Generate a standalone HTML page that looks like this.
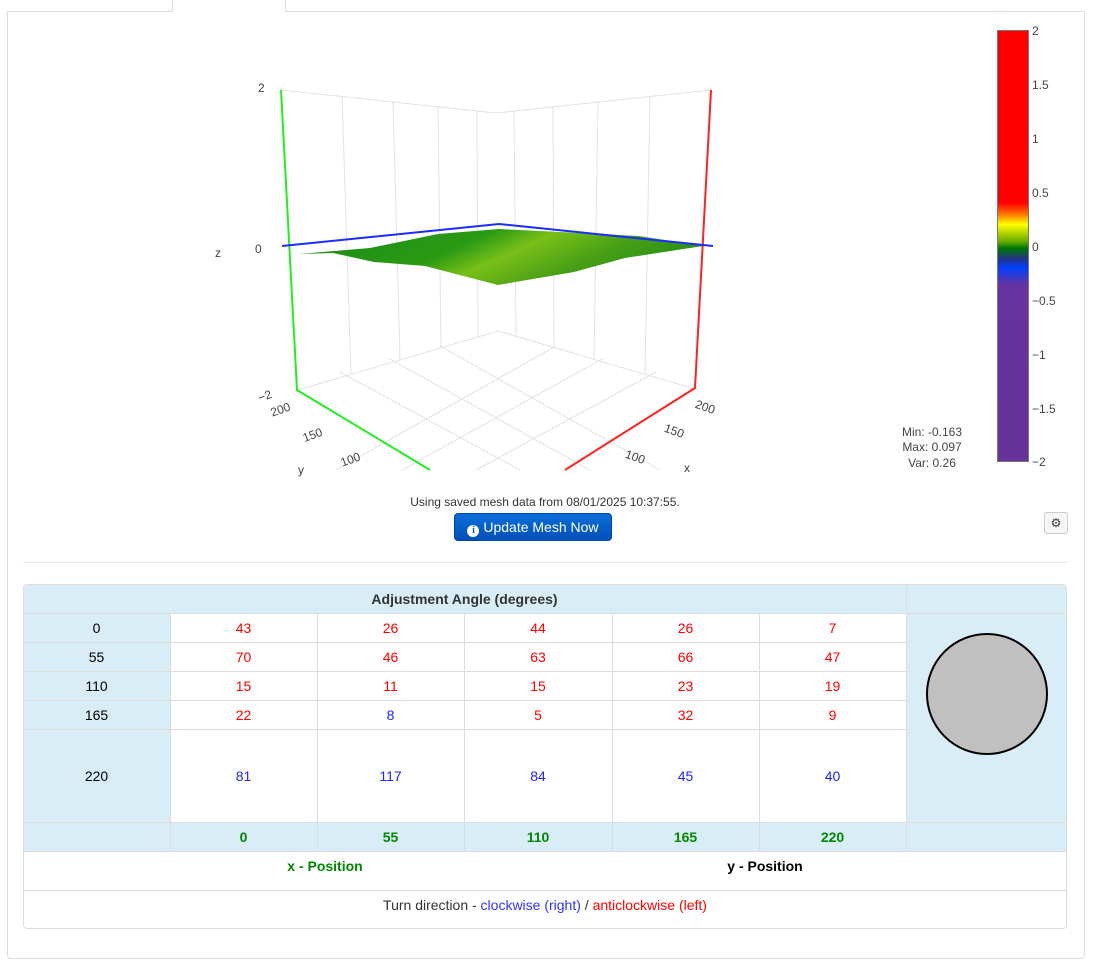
<!DOCTYPE html>
<html><head><meta charset="utf-8"><style>
body{margin:0;width:1100px;height:971px;background:#fff;font-family:"Liberation Sans",Arial,sans-serif;position:relative;overflow:hidden}
.a{position:absolute}
.c{position:absolute;text-align:center;font-size:14px;line-height:30px}
.r{color:#f00}.b{color:#22f}.g{color:#080;font-weight:bold}
.bg{background:#d9edf7}
.hl{position:absolute;height:1px;background:#ddd}
.vl{position:absolute;width:1px;background:#ddd}
</style></head><body>
<div class="a" style="left:7px;top:11px;width:1076px;height:947px;border:1px solid #ddd;border-top:none;border-radius:0 0 4px 4px"></div>
<div class="hl" style="left:7px;top:11px;width:165px"></div>
<div class="hl" style="left:285px;top:11px;width:799px"></div>
<div class="vl" style="left:172px;top:0;height:12px"></div>
<div class="vl" style="left:285px;top:0;height:12px"></div>

<svg class="a" style="left:0;top:0" width="1100" height="560" font-family="Liberation Sans, sans-serif">
<defs>
<linearGradient id="cb" x1="0" y1="0" x2="0" y2="1">
<stop offset="0" stop-color="#f00"/><stop offset="0.40" stop-color="#f00"/>
<stop offset="0.425" stop-color="#ff7000"/><stop offset="0.45" stop-color="#ff0"/>
<stop offset="0.49" stop-color="#6a0"/><stop offset="0.505" stop-color="#070"/>
<stop offset="0.53" stop-color="#223388"/><stop offset="0.55" stop-color="#0040ff"/>
<stop offset="0.59" stop-color="#6633a0"/><stop offset="1" stop-color="#663399"/>
</linearGradient>
<linearGradient id="sf" x1="0" y1="0" x2="1" y2="0.3">
<stop offset="0" stop-color="#1a8a1a"/><stop offset="0.45" stop-color="#2a9a14"/>
<stop offset="0.6" stop-color="#78c018"/><stop offset="0.8" stop-color="#4aa015"/><stop offset="1" stop-color="#2a9015"/>
</linearGradient>
</defs>
<g stroke="#e2e2e2" stroke-width="1" fill="none">
<polyline points="281,90 496,113 711,90"/>
<polyline points="298,390 498,331 698,390"/>
<line x1="342" y1="97" x2="351" y2="374"/><line x1="393" y1="102" x2="400" y2="360"/>
<line x1="438" y1="107" x2="441" y2="348"/><line x1="477" y1="111" x2="478" y2="337"/>
<line x1="514" y1="111" x2="516" y2="336"/><line x1="553" y1="107" x2="554" y2="347"/>
<line x1="598" y1="102" x2="594" y2="359"/><line x1="650" y1="96" x2="645" y2="375"/>
<line x1="340" y1="372" x2="520" y2="470"/><line x1="388" y1="358" x2="590" y2="470"/>
<line x1="440" y1="346" x2="660" y2="470"/><line x1="656" y1="372" x2="476" y2="470"/>
<line x1="604" y1="358" x2="402" y2="470"/><line x1="556" y1="346" x2="336" y2="470"/>
</g>
<polyline points="281,90 297,390 430,470" stroke="#2e2" stroke-width="2" fill="none"/>
<polyline points="711,90 695,388 565,470" stroke="#f22" stroke-width="2" fill="none"/>
<polygon points="299,254 333,253 374,262 425,266 498,285 574,272 625,258 703,246 639,236 540,231 499,229 438,234 370,248" fill="url(#sf)"/>
<polyline points="282,246 499,224 713,246" stroke="#1a2cff" stroke-width="2" fill="none"/>
<g font-size="12" fill="#444">
<text x="258" y="92">2</text><text x="255" y="253">0</text>
<text x="215" y="257">z</text>
<text x="258" y="400" transform="rotate(-20 265 396)">−2</text>
<text x="270" y="413" transform="rotate(-20 282 408)">200</text>
<text x="302" y="438" transform="rotate(-20 315 433)">150</text>
<text x="340" y="463" transform="rotate(-20 352 458)">100</text>
<text x="298" y="474">y</text>
<text x="695" y="412" transform="rotate(20 708 408)">200</text>
<text x="664" y="436" transform="rotate(20 677 432)">150</text>
<text x="625" y="462" transform="rotate(20 638 458)">100</text>
<text x="684" y="472">x</text>
</g>
<rect x="997.5" y="30.5" width="31" height="431" fill="url(#cb)" stroke="#777" stroke-width="1"/>
<g font-size="12" fill="#444">
<text x="1032" y="35">2</text><text x="1032" y="89">1.5</text><text x="1032" y="143">1</text>
<text x="1032" y="197">0.5</text><text x="1032" y="251">0</text><text x="1032" y="305">−0.5</text>
<text x="1032" y="359">−1</text><text x="1032" y="413">−1.5</text><text x="1032" y="466">−2</text>
<text x="932" y="436" text-anchor="middle">Min: -0.163</text>
<text x="932" y="451" text-anchor="middle">Max: 0.097</text>
<text x="932" y="467" text-anchor="middle">Var: 0.26</text>
</g>
<text x="545" y="506" font-size="12" fill="#333" text-anchor="middle">Using saved mesh data from 08/01/2025 10:37:55.</text>
</svg>
<div class="a" style="left:454px;top:513px;width:158px;height:28px;border-radius:4px;background:linear-gradient(#0a6ed8,#0050b8);border:1px solid #0048a8;box-sizing:border-box;color:#fff;font-size:14px;line-height:26px;text-align:center"><span style="display:inline-block;width:12px;height:12px;border-radius:6px;background:#fff;color:#0a5cc8;font-size:10px;line-height:12px;font-weight:bold;vertical-align:-1px;font-family:'Liberation Serif',serif">i</span> Update Mesh Now</div>
<div class="a" style="left:1044px;top:512px;width:24px;height:22px;border:1px solid #ccc;border-radius:3px;box-sizing:border-box;background:#f7f7f7;font-size:12px;line-height:20px;text-align:center;color:#333">⚙</div>
<div class="hl" style="left:23px;top:562px;width:1044px;background:#e5e5e5"></div>

<div class="a" style="left:23px;top:584px;width:1044px;height:345px;border:1px solid #ddd;border-radius:4px;box-sizing:border-box;overflow:hidden">
<div class="a bg" style="left:0;top:0;width:1044px;height:29px"></div>
<div class="a bg" style="left:0;top:29px;width:147px;height:209px"></div>
<div class="a bg" style="left:883px;top:29px;width:161px;height:209px"></div>
<div class="a bg" style="left:0;top:238px;width:1044px;height:29px"></div>
</div>
<div class="hl" style="left:23px;top:613px;width:1044px"></div>
<div class="hl" style="left:23px;top:642px;width:883px"></div>
<div class="hl" style="left:23px;top:671px;width:883px"></div>
<div class="hl" style="left:23px;top:700px;width:883px"></div>
<div class="hl" style="left:23px;top:729px;width:883px"></div>
<div class="hl" style="left:23px;top:822px;width:1044px"></div>
<div class="hl" style="left:23px;top:851px;width:1044px"></div>
<div class="hl" style="left:23px;top:890px;width:1044px"></div>
<div class="vl" style="left:170px;top:613px;height:238px"></div>
<div class="vl" style="left:317px;top:613px;height:238px"></div>
<div class="vl" style="left:464px;top:613px;height:238px"></div>
<div class="vl" style="left:612px;top:613px;height:238px"></div>
<div class="vl" style="left:759px;top:613px;height:238px"></div>
<div class="vl" style="left:906px;top:584px;height:267px"></div>
<div class="c" style="left:23px;top:584px;width:883px;font-weight:bold;color:#333">Adjustment Angle (degrees)</div>

<div class="c" style="left:23px;top:613px;width:147px">0</div>
<div class="c r" style="left:170px;top:613px;width:147px">43</div><div class="c r" style="left:317px;top:613px;width:147px">26</div><div class="c r" style="left:464px;top:613px;width:148px">44</div><div class="c r" style="left:612px;top:613px;width:147px">26</div><div class="c r" style="left:759px;top:613px;width:147px">7</div>
<div class="c" style="left:23px;top:642px;width:147px">55</div>
<div class="c r" style="left:170px;top:642px;width:147px">70</div><div class="c r" style="left:317px;top:642px;width:147px">46</div><div class="c r" style="left:464px;top:642px;width:148px">63</div><div class="c r" style="left:612px;top:642px;width:147px">66</div><div class="c r" style="left:759px;top:642px;width:147px">47</div>
<div class="c" style="left:23px;top:671px;width:147px">110</div>
<div class="c r" style="left:170px;top:671px;width:147px">15</div><div class="c r" style="left:317px;top:671px;width:147px">11</div><div class="c r" style="left:464px;top:671px;width:148px">15</div><div class="c r" style="left:612px;top:671px;width:147px">23</div><div class="c r" style="left:759px;top:671px;width:147px">19</div>
<div class="c" style="left:23px;top:700px;width:147px">165</div>
<div class="c r" style="left:170px;top:700px;width:147px">22</div><div class="c b" style="left:317px;top:700px;width:147px">8</div><div class="c r" style="left:464px;top:700px;width:148px">5</div><div class="c r" style="left:612px;top:700px;width:147px">32</div><div class="c r" style="left:759px;top:700px;width:147px">9</div>
<div class="c" style="left:23px;top:761px;width:147px">220</div>
<div class="c b" style="left:170px;top:761px;width:147px">81</div><div class="c b" style="left:317px;top:761px;width:147px">117</div><div class="c b" style="left:464px;top:761px;width:148px">84</div><div class="c b" style="left:612px;top:761px;width:147px">45</div><div class="c b" style="left:759px;top:761px;width:147px">40</div>
<div class="c g" style="left:170px;top:822px;width:147px">0</div><div class="c g" style="left:317px;top:822px;width:147px">55</div><div class="c g" style="left:464px;top:822px;width:148px">110</div><div class="c g" style="left:612px;top:822px;width:147px">165</div><div class="c g" style="left:759px;top:822px;width:147px">220</div>
<div class="a" style="left:926px;top:633px;width:122px;height:122px;border-radius:50%;background:#c0c0c0;border:2px solid #000;box-sizing:border-box"></div>
<div class="c g" style="left:225px;top:851px;width:200px;line-height:30px">x - Position</div>
<div class="c" style="left:665px;top:851px;width:200px;line-height:30px;font-weight:bold">y - Position</div>
<div class="c" style="left:23px;top:890px;width:1044px;line-height:30px;color:#333">Turn direction - <span class="b" style="color:#33f">clockwise (right)</span> / <span class="r">anticlockwise (left)</span></div>
</body></html>
